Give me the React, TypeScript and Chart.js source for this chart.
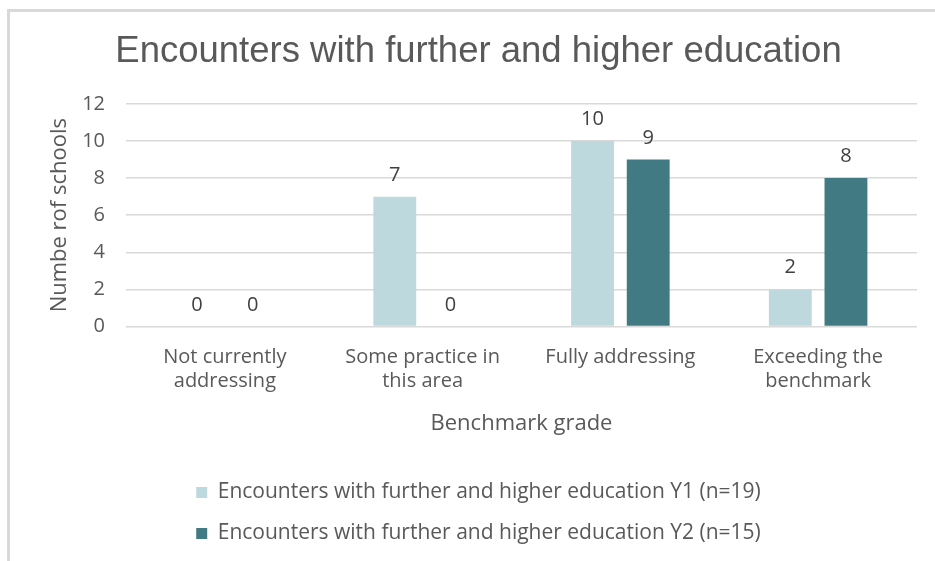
import React, { useEffect, useRef } from "react";
import { Chart, registerables } from "chart.js";

Chart.register(...registerables);

const titleText = "Encounters with further and higher education";
const categories: string[][] = [
  ["Not currently", "addressing"],
  ["Some practice in", "this area"],
  ["Fully addressing"],
  ["Exceeding the", "benchmark"],
];
const seriesNames = [
  "Encounters with further and higher education Y1 (n=19)",
  "Encounters with further and higher education Y2 (n=15)",
];
const y1Values = [0, 7, 10, 2];
const y2Values = [0, 0, 9, 8];
const seriesColors = ["#bed9de", "#417a83"];
const yMin = 0;
const yMax = 12;
const yStep = 2;
const xTitle = "Benchmark grade";
const yTitle = "Numbe rof schools";

const BODY_FONT = "Open Sans";
const TEXT = "#595959";

const dataLabels = {
  id: "dataLabels",
  afterDatasetsDraw(chart: any) {
    const ctx = chart.ctx;
    ctx.save();
    ctx.font = `20px "${BODY_FONT}"`;
    ctx.fillStyle = "#404040";
    ctx.textAlign = "center";
    ctx.textBaseline = "alphabetic";
    chart.data.datasets.forEach((ds: any, i: number) => {
      const meta = chart.getDatasetMeta(i);
      meta.data.forEach((bar: any, j: number) => {
        ctx.fillText(String(ds.data[j]), bar.x, bar.y - 16);
      });
    });
    ctx.restore();
  },
};

export default function App() {
  const ref = useRef<HTMLCanvasElement | null>(null);
  useEffect(() => {
    if (!ref.current) return;
    const chart = new Chart(ref.current, {
      type: "bar",
      data: {
        labels: categories,
        datasets: [
          {
            label: seriesNames[0],
            data: y1Values,
            backgroundColor: seriesColors[0],
            categoryPercentage: 0.563,
            barPercentage: 0.77,
          },
          {
            label: seriesNames[1],
            data: y2Values,
            backgroundColor: seriesColors[1],
            categoryPercentage: 0.563,
            barPercentage: 0.77,
          },
        ],
      },
      options: {
        responsive: false,
        animation: false,
        layout: { padding: { left: 40, right: 18, top: 0, bottom: 7 } },
        plugins: {
          title: {
            display: true,
            text: titleText,
            color: TEXT,
            font: { family: "Liberation Sans", size: 36.5, weight: "normal" },
            padding: { top: 30, bottom: 30 },
          },
          legend: {
            position: "bottom",
            labels: {
              color: TEXT,
              font: { family: BODY_FONT, size: 21 },
              boxWidth: 11,
              boxHeight: 11,
              padding: 20,
            },
          },
          tooltip: { enabled: false },
        },
        scales: {
          x: {
            grid: { display: false, drawTicks: false },
            border: { display: false },
            ticks: {
              color: TEXT,
              font: { family: BODY_FONT, size: 20, lineHeight: 1.2 },
              padding: 19,
              maxRotation: 0,
              autoSkip: false,
            },
            title: {
              display: true,
              text: xTitle,
              color: TEXT,
              font: { family: BODY_FONT, size: 22, lineHeight: 1.2 },
              padding: { top: -2, bottom: 25 },
            },
          },
          y: {
            min: yMin,
            max: yMax,
            afterFit: (scale: any) => {
              scale.width = 86;
            },
            ticks: {
              stepSize: yStep,
              color: TEXT,
              font: { family: BODY_FONT, size: 20 },
              padding: 21,
            },
            grid: { color: "#d9d9d9", lineWidth: 1.5, drawTicks: false },
            border: { display: false },
            title: {
              display: true,
              text: yTitle,
              color: TEXT,
              font: { family: BODY_FONT, size: 22, lineHeight: 1.2 },
              padding: { top: 7, bottom: 0 },
            },
          },
        },
      },
      plugins: [dataLabels],
    });
    return () => chart.destroy();
  }, []);

  return (
    <div style={{ position: "fixed", left: 0, top: 0, width: 935, height: 561, background: "#fff", overflow: "hidden" }}>
      <div
        style={{
          position: "absolute",
          left: 7,
          top: 9,
          width: 960,
          height: 600,
          borderLeft: "3px solid #d9d9d9",
          borderTop: "3px solid #d9d9d9",
        }}
      />
      <canvas ref={ref} width={935} height={561} style={{ position: "absolute", left: 0, top: 0 }} />
    </div>
  );
}
